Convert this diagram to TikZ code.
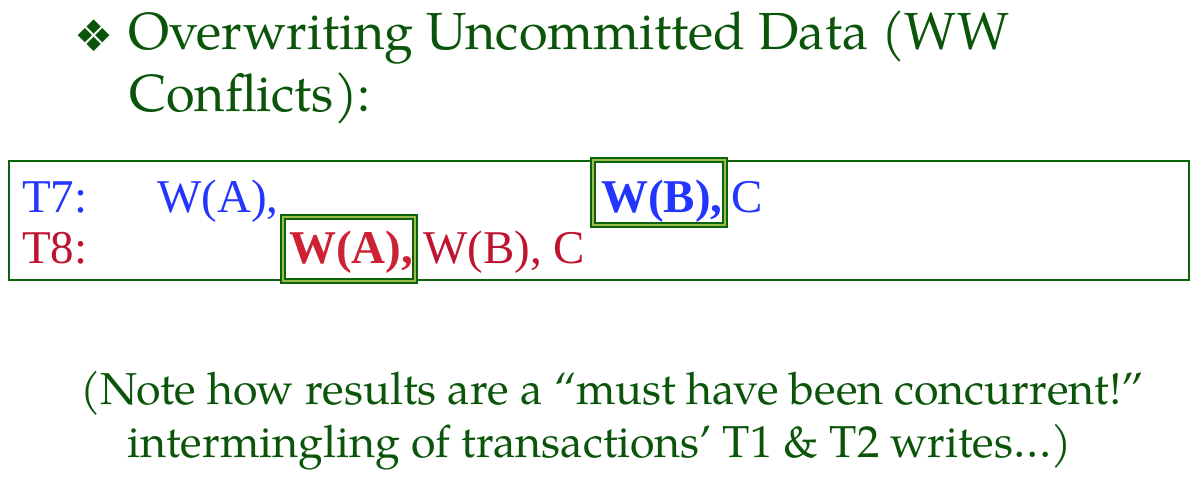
\documentclass[tikz,border=0pt]{standalone}
\usepackage{fontspec}
\newfontfamily\pal{texgyrepagella}[Extension=.otf, UprightFont=*-regular, BoldFont=*-bold]
\newfontfamily\tms{Liberation Serif}
\newfontfamily\dvs{DejaVu Sans}
\definecolor{textgreen}{HTML}{0A550A}
\definecolor{framegreen}{HTML}{0B640B}
\definecolor{hilite}{HTML}{9DBB4A}
\definecolor{tblue}{HTML}{2236FF}
\definecolor{tred}{HTML}{BE1430}
\definecolor{tboldred}{HTML}{CC2234}
\tikzset{
  txt/.style={inner sep=0pt, anchor=base west},
  heading/.style={txt, text=textgreen, font=\pal\fontsize{37.1}{40}\selectfont},
  note/.style={txt, text=textgreen, font=\pal\fontsize{31.8}{34}\selectfont},
  oprow/.style={txt, font=\tms\fontsize{33.4}{36}\selectfont},
  frame/.style={draw=framegreen, line width=2pt},
  markbox/.style={draw=framegreen, line width=1.4pt, double=hilite, double distance=0.9pt}
}
\begin{document}
\begin{tikzpicture}[x=0.025cm, y=-0.025cm]
  \useasboundingbox[fill=white] (0,0) rectangle (1200,478);

  % heading with bullet
  \node[inner sep=0pt, text=textgreen, font=\dvs\fontsize{31}{33}\selectfont] (bullet) at (94.5,36) {❖};
  \node[heading] (head1) at (128,50) {Overwriting Uncommitted Data (WW};
  \node[heading] (head2) at (129,112) {Conflicts):};

  % schedule frame
  \draw[frame] (9,161) rectangle (1189,280);

  % highlighted operations
  \draw[markbox] (593,160) rectangle (725,225);
  \draw[markbox] (283,217) rectangle (415,281);

  % transaction T7
  \node[oprow, text=tblue] (t7) at (22,212) {T7:};
  \node[oprow, text=tblue] (t7wa) at (157,212) {W(A),};
  \node[oprow, text=tblue] (t7wb) at (601,212) {\bfseries W(B),};
  \node[oprow, text=tblue] (t7c) at (731,212) {C};

  % transaction T8
  \node[oprow, text=tred] (t8) at (22,263) {T8:};
  \node[oprow, text=tboldred] (t8wa) at (289,263) {\bfseries W(A),};
  \node[oprow, text=tred] (t8rest) at (423,263) {W(B), C};

  % closing remark
  \node[note] (note1) at (80,404) {(Note how results are a “must have been concurrent!”};
  \node[note] (note2) at (127,457) {intermingling of transactions’ T1 \& T2 writes…)};
\end{tikzpicture}
\end{document}
